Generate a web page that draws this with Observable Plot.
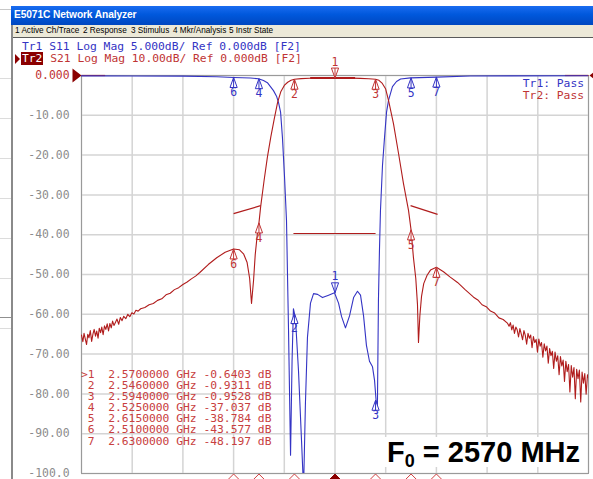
<!DOCTYPE html>
<html>
<head>
<meta charset="utf-8">
<script src="https://cdn.jsdelivr.net/npm/d3@7"></script>
<script src="https://cdn.jsdelivr.net/npm/@observablehq/plot@0.6"></script>
<style>
html,body{margin:0;padding:0;background:#fff;}
#wrap{position:relative;width:593px;height:479px;overflow:hidden;background:#fff;}
.abs{position:absolute;}
.mono{font-family:"DejaVu Sans Mono","Liberation Mono",monospace;font-size:11.3px;white-space:pre;line-height:11px;}
#title{left:11px;top:6px;width:582px;height:19px;background:linear-gradient(#1a6cf0,#0058dc 45%,#0047c0);}
#title span{position:absolute;left:3px;top:3px;color:#fff;font:bold 10.2px "Liberation Sans",Arial,sans-serif;letter-spacing:-0.1px;}
#menu{left:11px;top:25px;width:582px;height:12px;background:#ece9d8;border-bottom:1.5px solid #5a5a5a;}
#menu span{position:absolute;top:0;font:8.2px "Liberation Sans",sans-serif;color:#000;line-height:12px;}
#lborder{left:11px;top:25px;width:2px;height:454px;background:#8a8a8a;}
.hl{position:absolute;left:0;width:11px;height:1px;background:#dcdcdc;}
#hdr1{left:22px;top:41.2px;color:#3434c4;}
#hdr2{left:21px;top:52.8px;color:#c03434;}
#hdr2 b{font-weight:normal;background:#8b0000;color:#fff;padding:0 1px;}
#tri{left:15px;top:53.5px;width:0;height:0;border-top:5px solid transparent;border-bottom:5px solid transparent;border-left:5px solid #8b0000;}
#table{left:81px;top:368.5px;color:#c84040;line-height:11.17px;}
.pass{right:9px;text-align:right;}
#f0{left:380px;top:437px;width:200px;height:30px;background:#fff;font:bold 29px "Liberation Sans",Arial,sans-serif;color:#000;line-height:30px;text-align:right;white-space:nowrap;}
#f0 sub{font-size:18px;vertical-align:-5px;line-height:0;}
</style>
</head>
<body>
<div id="wrap">
  <div class="hl" style="top:9px;background:#c8c8c8"></div>
  <div class="hl" style="top:78px"></div>
  <div class="hl" style="top:118px"></div>
  <div class="hl" style="top:158px"></div>
  <div class="hl" style="top:198px"></div>
  <div class="hl" style="top:238px"></div>
  <div class="hl" style="top:278px"></div>
  <div class="hl" style="top:317px;background:#909090"></div>
  <div class="hl" style="top:328px"></div>
  <div id="title" class="abs"><span>E5071C Network Analyzer</span></div>
  <div id="menu" class="abs">
    <span style="left:4px">1 Active Ch/Trace</span>
    <span style="left:72px">2 Response</span>
    <span style="left:120px">3 Stimulus</span>
    <span style="left:162px">4 Mkr/Analysis</span>
    <span style="left:218px">5 Instr State</span>
  </div>
  <div id="lborder" class="abs"></div>
  <div id="hdr1" class="abs mono">Tr1 S11 Log Mag 5.000dB/ Ref 0.000dB [F2]</div>
  <div id="tri" class="abs"></div>
  <div id="hdr2" class="abs mono"><b>Tr2</b> S21 Log Mag 10.00dB/ Ref 0.000dB [F2]</div>
  <div id="chart" class="abs" style="left:0;top:0"></div>
  <div id="table" class="abs mono"></div>
  <div class="abs mono pass" style="top:77.5px;color:#3434c4">Tr1: Pass</div>
  <div class="abs mono pass" style="top:89.5px;color:#c03434">Tr2: Pass</div>
  <div id="f0" class="abs">F<sub>0</sub> = 2570 MHz</div>
</div>
<script>
// ---- S21 (Tr2) trace, GHz / dB ----
const s21Freq = [
  2.4200,2.4208,2.4215,2.4222,2.4230,2.4237,2.4244,2.4252,2.4260,2.4268,2.4275,2.4283,2.4290,2.4298,
  2.4305,2.4313,2.4320,2.4328,2.4336,2.4344,2.4352,2.4360,2.4368,2.4376,2.4384,2.4392,2.4400,2.4410,
  2.4420,2.4430,2.4440,2.4450,2.4462,2.4474,2.4486,2.4498,2.4510,2.4522,2.4535,
  2.4550,2.4575,2.4600,2.4625,2.4650,2.4675,2.4700,2.4725,2.4750,2.4775,2.4800,2.4825,2.4850,2.4875,
  2.490,2.495,2.500,2.505,2.510,2.5135,2.516,2.518,2.5195,
  2.5206,2.5218,2.5228,2.524,2.525,2.526,2.528,2.530,2.532,2.534,2.536,2.538,2.540,2.542,2.544,2.546,
  2.550,2.555,2.560,2.565,2.570,2.575,2.580,2.585,2.590,2.594,2.596,2.598,2.600,2.6017,2.6046,2.6076,
  2.6105,2.6135,2.615,2.6164,2.6178,2.6188,2.6194,2.6202,2.6212,2.6225,2.6245,2.6265,2.630,2.6342,
  2.638,2.6425,2.647,2.652,2.6545,2.657,2.6595,2.662,2.6645,2.667,2.6695,
  2.6720,2.6730,2.6738,2.6746,2.6754,2.6762,2.6770,2.6778,2.6786,2.6794,2.6802,2.6810,2.6818,2.6826,
  2.6834,2.6842,2.6850,2.6858,2.6866,2.6874,2.6882,2.6890,2.6898,2.6906,2.6914,2.6922,2.6930,2.6938,
  2.6946,2.6954,2.6962,2.6970,2.6978,2.6986,2.6994,2.7002,2.7010,2.7018,2.7026,2.7034,2.7042,2.7050,
  2.7058,2.7066,2.7074,2.7082,2.7090,2.7098,2.7106,2.7114,2.7122,2.7130,2.7138,2.7146,2.7154,2.7162,
  2.7170,2.7178,2.7186,2.7194,2.7200
];
const s21dB = [
  -65.2,-66.9,-64.8,-66.1,-67.6,-65.0,-65.9,-64.1,-66.8,-64.9,-63.8,-65.5,-64.2,-66.0,
  -63.5,-64.6,-63.2,-65.1,-62.9,-63.8,-62.4,-64.2,-62.3,-63.4,-61.7,-62.8,-62.1,-61.2,
  -62.5,-60.8,-61.6,-60.5,-61.1,-60.0,-60.6,-59.6,-59.9,-59.0,-59.2,
  -58.6,-58.3,-57.6,-57.3,-56.5,-56.1,-55.1,-54.7,-53.8,-53.3,-52.5,-51.9,-51.1,-50.4,
  -49.5,-47.5,-45.8,-44.4,-43.58,-43.8,-44.9,-47.0,-51.0,
  -57.3,-51.5,-45.0,-40.0,-37.04,-33.0,-26.5,-20.5,-15.5,-11.0,-6.8,-4.0,-2.5,-1.7,-1.2,-0.93,
  -0.78,-0.68,-0.62,-0.60,-0.64,-0.62,-0.66,-0.72,-0.82,-0.95,-1.2,-2.0,-3.4,-6.3,-12.1,-19.6,
  -27.1,-33.9,-38.78,-45.7,-51.0,-57.5,-67.1,-60.5,-55.5,-52.3,-50.2,-48.9,-48.2,-49.3,
  -50.6,-52.0,-53.8,-55.7,-56.4,-57.6,-58.1,-59.2,-59.7,-60.9,-61.3,
  -62.2,-63.0,-62.1,-63.9,-62.7,-64.8,-63.2,-63.9,-65.7,-63.6,-64.9,-66.4,-64.1,-65.3,
  -67.5,-64.8,-66.0,-65.2,-68.4,-65.6,-67.1,-66.3,-69.5,-66.2,-68.0,-67.1,-70.8,-67.4,
  -69.2,-68.0,-72.3,-68.6,-70.4,-69.3,-73.6,-69.5,-71.8,-70.4,-75.2,-70.6,-73.0,-71.5,
  -76.9,-71.8,-74.4,-72.6,-79.5,-72.9,-75.8,-73.4,-81.2,-73.8,-76.2,-74.0,-82.0,-74.5,
  -77.3,-74.9,-80.1,-75.2,-76.0
];
// ---- S11 (Tr1) trace, GHz / dB (displayed at 5 dB/div) ----
const s11Freq = [
  2.420,2.450,2.480,2.500,2.510,2.520,2.5247,2.5277,2.5300,2.5318,2.5336,2.5354,2.5366,2.5378,2.5389,
  2.5401,2.5413,2.5425,2.5437,2.5446,2.5454,2.5466,2.5484,2.5502,2.5514,2.5525,2.5537,2.5555,2.5573,
  2.5597,2.5626,2.5662,2.5697,2.5721,2.5739,2.5762,2.5786,2.5810,2.5833,2.5851,2.5869,2.5886,2.5904,
  2.5922,2.5934,2.5943,2.5951,2.5957,2.5963,2.5969,2.5981,2.5993,2.6005,2.6017,2.6040,2.6064,2.6088,
  2.6147,2.630,2.650,2.720
];
const s11dB = [
  -0.05,-0.06,-0.08,-0.15,-0.25,-0.32,-0.4,-0.63,-0.9,-1.4,-1.9,-2.6,-3.4,-4.6,-7.8,
  -12.6,-18.2,-32.0,-47.7,-35.8,-29.3,-30.5,-37.1,-45.9,-52.0,-41.2,-32.9,-28.6,-27.4,
  -27.5,-27.9,-27.6,-27.3,-28.6,-30.3,-31.7,-30.2,-27.9,-27.1,-27.6,-30.2,-33.9,-35.9,
  -36.6,-38.3,-40.8,-41.5,-28.3,-22.0,-17.0,-11.3,-7.8,-4.6,-3.1,-1.4,-0.75,-0.44,
  -0.3,-0.2,-0.06,-0.03
];
// ---- markers ----
const markerIds = ["1","2","3","4","5","6","7"];
const markerFreq = [2.570, 2.546, 2.594, 2.525, 2.615, 2.510, 2.630];
const markerS21 = [-0.6403, -0.9311, -0.9528, -37.037, -38.784, -43.577, -48.197];
const markerS11 = [-27.3, -29.9, -40.8, -0.4, -0.3, -0.25, -0.2];
// ---- S21 limit line segments ----
const limF1 = [2.420, 2.706, 2.510, 2.5454, 2.6147, 2.5553];
const limDb1 = [0, 0, -34.7, -39.7, -32.7, -0.6];
const limF2 = [2.434, 2.720, 2.526, 2.594, 2.6307, 2.5819];
const limDb2 = [0, 0, -32.7, -39.7, -34.9, -0.6];
// ---- axes ----
const yTicks = [0,-10,-20,-30,-40,-50,-60,-70,-80,-90,-100];
const yTickLabels = ["0.000","-10.00","-20.00","-30.00","-40.00","-50.00","-60.00","-70.00","-80.00","-90.00","-100.0"];
const xGrid = [2.42,2.45,2.48,2.51,2.54,2.57,2.60,2.63,2.66,2.69,2.72];

const RED = "#b01c1c", BLUE = "#3434c4", LRED = "#c03434", DARKRED = "#8b0000";
const MONO = "DejaVu Sans Mono";

const s21 = s21Freq.map((f,i)=>({f, db:s21dB[i]}));
const s11 = s11Freq.map((f,i)=>({f, db:s11dB[i]}));
const markers = markerIds.map((id,i)=>({id, f:markerFreq[i], s21:markerS21[i], s11:markerS11[i]}));
const limits = limF1.map((f,i)=>({f1:f, d1:limDb1[i], f2:limF2[i], d2:limDb2[i], w: i===5?2:1.2}));
const yRows = yTicks.map((v,i)=>({v, label:yTickLabels[i]}));

// marker glyphs: apex at the data point
const upTri = {draw(c){c.moveTo(0,0);c.lineTo(3.6,10);c.lineTo(-3.6,10);c.closePath();c.moveTo(0,0);c.lineTo(0,10);}};
const downTri = {draw(c){c.moveTo(0,0);c.lineTo(3.6,-10);c.lineTo(-3.6,-10);c.closePath();c.moveTo(0,0);c.lineTo(0,-10);}};
const chevron = {draw(c){c.moveTo(0,0);c.lineTo(6,6);c.lineTo(-6,6);c.closePath();}};
const refRight = {draw(c){c.moveTo(0,0);c.lineTo(-9,-7);c.lineTo(-9,7);c.closePath();}};
const refLeft = {draw(c){c.moveTo(0,0);c.lineTo(9,-7);c.lineTo(9,7);c.closePath();}};

const active = markers.filter(d=>d.id==="1");
const others = markers.filter(d=>d.id!=="1");

const chart = Plot.plot({
  width:593, height:479,
  marginLeft:81, marginRight:5, marginTop:75, marginBottom:6,
  x:{domain:[2.42,2.72], axis:null},
  y:{domain:[-100,0], axis:null},
  color:{type:"identity"},
  style:{background:"transparent", overflow:"visible"},
  marks:[
    Plot.gridX(xGrid,{stroke:"#d4d4d4", strokeOpacity:1, strokeWidth:1.5}),
    Plot.gridY(yTicks,{stroke:"#d4d4d4", strokeOpacity:1, strokeWidth:1.5}),
    Plot.frame({stroke:"#9a9a9a"}),
    Plot.text(yRows,{frameAnchor:"left", y:"v", text:"label", textAnchor:"end", dx:-12,
      fill:d=>d.v===0?LRED:"#8c8c8c", fontFamily:MONO, fontSize:11.4}),
    Plot.dot([0],{frameAnchor:"top-left", symbol:refRight, fill:DARKRED, stroke:"none"}),
    Plot.dot([0],{frameAnchor:"top-right", symbol:refLeft, fill:DARKRED, stroke:"none", dx:1}),
    Plot.link(limits,{x1:"f1", y1:"d1", x2:"f2", y2:"d2", stroke:RED, strokeWidth:"w"}),
    Plot.line(s11,{x:"f", y:d=>d.db*2, stroke:BLUE, strokeWidth:1.1, clip:true}),
    Plot.line(s21,{x:"f", y:"db", stroke:RED, strokeWidth:1.1, clip:true}),
    // Tr1 markers
    Plot.dot(others,{x:"f", y:d=>d.s11*2, symbol:upTri, fill:"white", stroke:BLUE, strokeWidth:1}),
    Plot.dot(active,{x:"f", y:d=>d.s11*2, symbol:downTri, fill:"white", stroke:BLUE, strokeWidth:1}),
    Plot.text(others,{x:"f", y:d=>d.s11*2, text:"id", dy:15, fill:BLUE, fontFamily:MONO, fontSize:11.4}),
    Plot.text(active,{x:"f", y:d=>d.s11*2, text:"id", dy:-16, fill:BLUE, fontFamily:MONO, fontSize:11.4}),
    // Tr2 markers
    Plot.dot(others,{x:"f", y:"s21", symbol:upTri, fill:"white", stroke:LRED, strokeWidth:1}),
    Plot.dot(active,{x:"f", y:"s21", symbol:downTri, fill:"white", stroke:LRED, strokeWidth:1}),
    Plot.text(others,{x:"f", y:"s21", text:"id", dy:15, fill:LRED, fontFamily:MONO, fontSize:11.4}),
    Plot.text(active,{x:"f", y:"s21", text:"id", dy:-16, fill:LRED, fontFamily:MONO, fontSize:11.4}),
    // marker position indicators under the grid
    Plot.dot(markers,{x:"f", frameAnchor:"bottom", dy:0.5, symbol:chevron,
      fill:d=>d.id==="1"?DARKRED:"white", stroke:d=>d.id==="1"?DARKRED:"#d04040", strokeWidth:1})
  ]
});
document.getElementById("chart").appendChild(chart);

// marker readout table (Tr2)
document.getElementById("table").textContent = markers.map((d,i)=>{
  const v = d.s21 > -10 ? d.s21.toFixed(4) : d.s21.toFixed(3);
  return (i===0?">":" ") + d.id + "  " + d.f.toFixed(7) + " GHz " + v + " dB";
}).join("\n");
</script>
</body>
</html>
